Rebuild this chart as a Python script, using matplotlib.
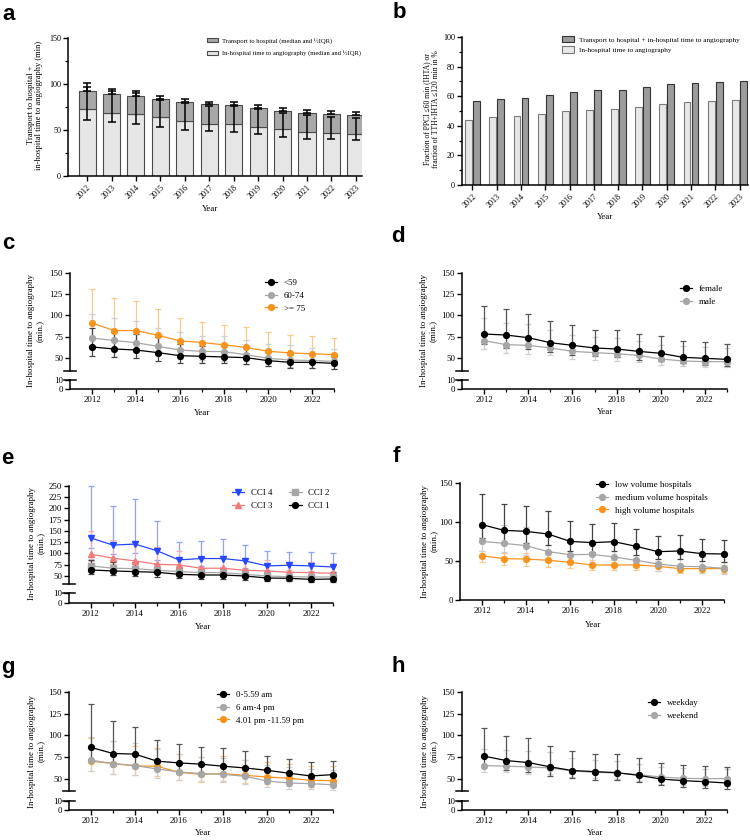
import matplotlib
matplotlib.use('Agg')
import matplotlib.pyplot as plt
from matplotlib.patches import Patch
import numpy as np

plt.rcParams['font.family'] = ['Liberation Serif', 'DejaVu Serif']
plt.rcParams['axes.linewidth'] = 1.1

W, H = 750, 840
fig = plt.figure(figsize=(7.5, 8.4), dpi=100)

# ── data ──
years = np.arange(2012, 2024)
year_labels = [str(y) for y in years]
even_years = [2012, 2014, 2016, 2018, 2020, 2022]

# a: stacked bars (median and 1/2 IQR)
a_in = [72.5, 68, 67, 64, 59.5, 57, 56.5, 53.6, 50.7, 47.8, 47, 46]
a_transport = [20.3, 21, 20, 20, 20.5, 21, 20.5, 20.4, 20.3, 20.3, 20, 20.3]
a_in_low = [61, 58.3, 56.5, 53.6, 50, 49, 47.8, 45.3, 42.4, 40.6, 39.9, 39.1]
a_in_high = [96.4, 92, 90, 83, 79, 76.5, 75.7, 72.5, 68.5, 66, 64.5, 62.7]
a_total_high = [101.4, 95, 92.4, 87.3, 83.3, 80.8, 80, 77.5, 73.5, 71.4, 70.3, 69.6]

# b: fractions in %
b_in = [44, 46, 46.5, 48, 50, 51, 51.5, 53, 55, 56, 57, 57.5]
b_total = [56.5, 58, 58.5, 60.5, 63, 64, 64.5, 66, 68, 69, 69.3, 70.3]

# c: age groups
c_lt59 = [63, 60.6, 59.4, 56.3, 52.7, 52, 51.2, 50.4, 46.9, 44.9, 44.9, 43.7]
c_lt59_lo = [52.7, 50.8, 50, 47, 44.5, 43.7, 44, 42.5, 40, 38.6, 37.8, 36.7]
c_lt59_hi = [85, 81, 78.5, 75, 66, 64, 65, 62, 57, 53, 53, 51]
c_60 = [73.5, 70.6, 68, 63.7, 59.4, 57.8, 57.5, 53.9, 49.6, 47.6, 47, 46]
c_60_lo = [63, 60, 57, 53, 49, 47.5, 47, 43.3, 40.6, 39.4, 38.6, 37.4]
c_60_hi = [102, 97.3, 93.5, 85.6, 80, 76, 75.3, 70.6, 67, 64.9, 62, 60.2]
c_75 = [91.2, 82.3, 82.3, 76.7, 70.2, 68.2, 65.5, 62.4, 58, 55.9, 55, 54]
c_75_lo = [76, 70, 68, 63, 58, 56, 55, 52, 49, 46, 46, 45]
c_75_hi = [131.5, 120.6, 117.3, 107.5, 97, 92.7, 89, 86.3, 80.8, 77, 76.4, 73.7]

# d: sex
d_female = [78.2, 77, 73.9, 68, 64.9, 61.8, 60.6, 57.8, 55.5, 50.8, 49.6, 48.4]
d_female_lo = [66, 62, 61, 57, 53, 52, 51, 48, 46, 44, 42, 41]
d_female_hi = [111.6, 107.6, 101.8, 93.5, 88.4, 83, 83.3, 78.6, 75.9, 70.4, 68.4, 66.9]
d_male = [70.4, 65.7, 64.9, 61.8, 57.8, 56.3, 55, 53, 48.8, 46.5, 45.7, 45.7]
d_male_lo = [61, 56, 55, 53, 49, 48, 47, 45, 42, 40, 39, 39]
d_male_hi = [97, 91.2, 89.6, 82.5, 77.5, 75, 73, 69.6, 65.7, 64, 62.5, 61.8]

# e: Charlson comorbidity index
e_cci4 = [134.3, 118.7, 120.9, 106, 85.8, 88.8, 88.8, 83.6, 72.4, 73.9, 72.4, 70.1]
e_cci4_lo = [112, 98.5, 100, 85, 70, 72.4, 70, 67, 61, 59.7, 59.7, 57.5]
e_cci4_hi = [250, 206, 220, 171.6, 124.6, 126.9, 132, 118.7, 104.5, 103, 103, 100]
e_cci3 = [98.5, 89.5, 83.6, 76, 74.6, 67.2, 67.2, 62.7, 61.2, 58.2, 57.5, 56]
e_cci3_lo = [83.6, 76, 74.6, 67.2, 65, 59.7, 59.7, 55, 53.7, 52.2, 51.5, 50]
e_cci3_hi = [150.7, 130, 121, 113.4, 106, 92.5, 94, 89.5, 85, 80, 80.6, 76]
e_cci2 = [72.4, 67.2, 66.4, 62.7, 59.7, 57.5, 57.5, 53.7, 50, 48.5, 47.8, 47.8]
e_cci2_lo = [62, 58, 57, 54, 51, 49, 49, 46, 43, 42, 41, 41]
e_cci2_hi = [87.3, 83.6, 82, 77.6, 72.4, 70, 70, 66.4, 62.7, 62.7, 61.2, 59.7]
e_cci1 = [63.4, 61.2, 59.7, 58.2, 53.7, 52.2, 52.2, 50, 45.5, 44.8, 42.5, 43.3]
e_cci1_lo = [53.7, 51.5, 50, 47.8, 44.8, 43.3, 43.3, 41, 38.8, 38, 37.3, 37.3]
e_cci1_hi = [85.8, 80.6, 80, 76, 67.2, 65.7, 65.7, 63.4, 59.7, 59, 58.2, 58.2]

# f: hospital volume
f_low = [96.6, 89.3, 88, 84.6, 75.2, 73.5, 74.8, 68.8, 62, 62.8, 59.4, 59]
f_low_lo = [79.5, 74.4, 73, 70, 63.2, 61, 62.4, 58.1, 53, 52.1, 49.6, 48.7]
f_low_hi = [135.9, 123.5, 121, 113.7, 101.3, 97.4, 98.7, 91, 81.6, 83.8, 78.6, 77.4]
f_med = [75.2, 72.6, 69.7, 62, 58.1, 58.5, 55.1, 50.9, 46.2, 43.2, 42.7, 40.6]
f_med_lo = [63.2, 61.5, 58.1, 51.7, 48.7, 48.7, 46.2, 41.9, 36.8, 35.5, 35, 33.3]
f_med_hi = [98.7, 96.6, 93.2, 83.8, 78.2, 76.5, 73.1, 68.8, 62.4, 59, 58.1, 56]
f_high = [56.8, 53, 52.6, 50.9, 48.3, 44.9, 44.9, 44.9, 43.2, 40.2, 40.2, 40.2]
f_high_lo = [48.3, 45.3, 44, 42.7, 41, 38, 38.5, 38, 36.8, 34.6, 34.6, 34.2]
f_high_hi = [63.2, 60.3, 60.3, 58.1, 54.7, 50.9, 51.3, 50.9, 48.7, 45.3, 45.3, 45.3]

# g: time of day
g_night = [86.3, 79.3, 78.6, 70.5, 68.5, 67, 64.7, 62.7, 60, 56.6, 53.5, 55]
g_night_lo = [72, 68, 66, 61, 58, 57, 56, 53, 51, 48, 46, 47]
g_night_hi = [136.5, 117.2, 110, 95, 90.7, 86.6, 86, 81.7, 76.2, 73.5, 69.7, 70.5]
g_day = [71.6, 67.8, 65.4, 61.6, 58.1, 56.2, 55.4, 53.1, 47.7, 45.4, 44.6, 43.4]
g_day_lo = [59.3, 56.2, 54.2, 51.5, 49.2, 47.7, 46.5, 44.6, 40.7, 38.8, 38, 36.9]
g_day_hi = [98.6, 93.8, 91, 84.4, 78.2, 75.5, 74.3, 71.6, 65.8, 63.9, 62, 60]
g_eve = [70.5, 67.8, 65, 64.7, 57.7, 55.4, 56.2, 54.2, 52.3, 50.8, 48.5, 48.1]
g_eve_lo = [59.3, 56.2, 54.2, 53, 49.2, 46.5, 47.7, 45.8, 43.8, 41.9, 40.7, 40.7]
g_eve_hi = [96.7, 93.6, 88.2, 85.5, 79.3, 75.5, 76.2, 71.6, 69.7, 67.8, 65, 64.7]

# h: weekday / weekend
h_wd = [76.3, 71.2, 68.9, 63.9, 59.7, 58.5, 57.3, 54.2, 50, 48.1, 46.9, 45.4]
h_wd_lo = [64.7, 60, 58.1, 53.9, 50.8, 49.2, 48.5, 46.1, 42.7, 40.7, 40, 38.8]
h_wd_hi = [109, 99.8, 96.7, 88.2, 82.4, 79.3, 78.2, 73.9, 68.9, 66.2, 65, 63.5]
h_we = [65.4, 64.7, 63.9, 62.7, 59.3, 57.7, 56.9, 55, 52.3, 50.8, 50.4, 50.4]
h_we_lo = [58.1, 57.7, 56.2, 55.4, 52.3, 50.8, 50, 47.7, 44.6, 43, 42.3, 41.9]
h_we_hi = [84.4, 83.2, 82, 80.5, 74.7, 72.4, 70.8, 67.8, 63.9, 62.4, 62, 61.2]

BLACK, GREY, ORANGE = '#000000', '#a6a6a6', '#f7931e'
BLUE, RED = '#2646ff', '#f27a7a'
FS = 6.4


def px_axes(x0, x1, ytop, ybot):
    return fig.add_axes([x0 / W, 1 - ybot / H, (x1 - x0) / W, (ybot - ytop) / H])


def clean(ax):
    ax.spines['top'].set_visible(False)
    ax.spines['right'].set_visible(False)
    ax.tick_params(width=1.0, length=3.5, labelsize=FS, pad=1.5)
    ax.tick_params(which='minor', width=0.9, length=2)


def year_axis(ax):
    ax.set_xlim(2011, 2023)
    ax.set_xticks(even_years)
    ax.set_xticks(years, minor=True)


def broken_panel(x0, x1, up_top, up_bot, lo_top, lo_bot, ylo, yhi, yticks):
    ax = px_axes(x0, x1, up_top, up_bot)
    axl = px_axes(x0, x1, lo_top, lo_bot)
    for a in (ax, axl):
        clean(a)
        year_axis(a)
        a.patch.set_alpha(0)
    ax.spines['bottom'].set_visible(False)
    ax.tick_params(axis='x', which='both', bottom=False, labelbottom=False)
    ax.set_ylim(ylo, yhi)
    ax.set_yticks(yticks)
    axl.set_ylim(0, 10)
    axl.set_yticks([0, 10])
    ax.plot([-0.022, 0.022], [0, 0], transform=ax.transAxes, color='k', lw=1.1, clip_on=False)
    axl.plot([-0.022, 0.022], [1, 1], transform=axl.transAxes, color='k', lw=1.1, clip_on=False)
    return ax, axl


def series(ax, med, lo, hi, color, ecolor, marker, label, ms=4.2):
    med, lo, hi = np.asarray(med), np.asarray(lo), np.asarray(hi)
    eb = ax.errorbar(years, med, yerr=[med - lo, hi - med], fmt='none', ecolor=ecolor,
                     elinewidth=0.9, capsize=2.2, capthick=0.9, zorder=2)
    for art in list(eb.lines[1]) + list(eb.lines[2]):
        art.set_clip_on(False)
    ln, = ax.plot(years, med, color=color, marker=marker, ms=ms, lw=0.9,
                  label=label, clip_on=False, zorder=3)
    return ln


def legend_at(handles, x, y, fs=FS, **kw):
    opts = dict(loc='upper left', bbox_to_anchor=(x / W, 1 - y / H), frameon=False,
                fontsize=fs, handlelength=1.4, handletextpad=0.7, labelspacing=0.5,
                borderpad=0, borderaxespad=0)
    opts.update(kw)
    fig.legend(handles=handles, **opts)


def ylabel_at(text, x, y, fs=FS):
    fig.text(x / W, 1 - y / H, text, rotation=90, ha='center', va='center',
             fontsize=fs, linespacing=1.15)


def xlabel_at(x, y, fs=FS):
    fig.text(x / W, 1 - y / H, 'Year', ha='center', va='center', fontsize=fs)


def panel_letter(letter, x, y):
    fig.text(x / W, 1 - y / H, letter, ha='center', va='center', fontsize=16,
             fontweight='bold', family='Liberation Sans')


LINE_LABEL = 'In-hospital time to angiography\n(min.)'

# ── a ──
ax = px_axes(68, 362, 38, 176)
clean(ax)
xi = np.arange(len(years))
a_in_arr = np.array(a_in)
a_tot = a_in_arr + np.array(a_transport)
ax.bar(xi, a_in, 0.7, color='#e6e6e6', edgecolor='#4a4a4a', lw=0.8, zorder=1)
ax.bar(xi, a_transport, 0.7, bottom=a_in, color='#a8a8a8', edgecolor='#4a4a4a', lw=0.8, zorder=1)
ax.errorbar(xi, a_in_arr, yerr=[a_in_arr - np.array(a_in_low), np.array(a_in_high) - a_in_arr],
            fmt='none', ecolor='k', elinewidth=1.1, capsize=3, capthick=1.1, zorder=3)
ax.errorbar(xi, a_tot, yerr=[np.zeros(len(years)), np.array(a_total_high) - a_tot],
            fmt='none', ecolor='k', elinewidth=1.1, capsize=3, capthick=1.1, zorder=3)
ax.set_xlim(-0.78, 11.25)
ax.set_ylim(0, 150)
ax.set_yticks([0, 50, 100, 150])
ax.set_yticks([25, 75, 125], minor=True)
ax.set_xticks(xi)
ax.set_xticklabels(year_labels, rotation=45, ha='right', rotation_mode='anchor', fontsize=5.9)
ax.tick_params(axis='y', labelsize=5.9)
legend_at([Patch(facecolor='#a8a8a8', edgecolor='#4a4a4a', lw=0.8),
           Patch(facecolor='#e6e6e6', edgecolor='#4a4a4a', lw=0.8)],
          207, 38, fs=4.8, handlelength=1.6, handleheight=0.6, labelspacing=1.0)
fig.legends[-1].texts[0].set_text('Transport to hospital (median and ½IQR)')
fig.legends[-1].texts[1].set_text('In-hospital time to angiography (median and ½IQR)')
ylabel_at('Transport to hospital +\nin-hospital time to angiography (min)', 35, 105, fs=6.1)
xlabel_at(210, 209)
panel_letter('a', 9, 14)

# ── b ──
ax = px_axes(462, 748, 37, 185)
clean(ax)
ax.bar(xi - 0.165, b_in, 0.28, color='#e8e8e8', edgecolor='#7a7a7a', lw=0.8)
ax.bar(xi + 0.165, b_total, 0.28, color='#9c9c9c', edgecolor='#333333', lw=0.8)
ax.set_xlim(-0.43, 11.35)
ax.set_ylim(0, 100)
ax.set_yticks([0, 20, 40, 60, 80, 100])
ax.set_yticks([10, 30, 50, 70, 90], minor=True)
ax.set_xticks(xi)
ax.set_xticklabels(year_labels, rotation=45, ha='right', rotation_mode='anchor', fontsize=5.9)
ax.tick_params(axis='y', labelsize=5.9)
legend_at([Patch(facecolor='#9c9c9c', edgecolor='#333333', lw=0.8),
           Patch(facecolor='#e8e8e8', edgecolor='#7a7a7a', lw=0.8)],
          562, 36, fs=5.2, handlelength=1.6, handleheight=1.0, labelspacing=0.5)
fig.legends[-1].texts[0].set_text('Transport to hospital + in-hospital time to angiography')
fig.legends[-1].texts[1].set_text('In-hospital time to angiography')
ylabel_at('Fraction of PPCI ≤60 min (IHTA) or\nfraction of TTH+IHTA ≤120 min in %', 432, 109, fs=5.5)
xlabel_at(605, 217)
panel_letter('b', 399, 12)

# ── c ──
ax, axl = broken_panel(70, 334, 273, 371, 380, 389, 34.7, 150, [50, 75, 100, 125, 150])
h3 = series(ax, c_75, c_75_lo, c_75_hi, ORANGE, '#f9c88a', 'o', '>= 75')
h2 = series(ax, c_60, c_60_lo, c_60_hi, GREY, '#cfcfcf', 'o', '60-74')
h1 = series(ax, c_lt59, c_lt59_lo, c_lt59_hi, BLACK, '#444444', 'o', '<59')
legend_at([h1, h2, h3], 265, 279)
ylabel_at(LINE_LABEL, 35, 331)
xlabel_at(202, 413)
panel_letter('c', 8, 243)

# ── d ──
ax, axl = broken_panel(462, 727, 273, 371, 380, 389, 34.7, 150, [50, 75, 100, 125, 150])
h2 = series(ax, d_male, d_male_lo, d_male_hi, GREY, '#cfcfcf', 'o', 'male')
h1 = series(ax, d_female, d_female_lo, d_female_hi, BLACK, '#555555', 'o', 'female')
legend_at([h1, h2], 680, 285)
ylabel_at(LINE_LABEL, 428, 331)
xlabel_at(605, 412)
panel_letter('d', 398, 237)

# ── e ──
ax, axl = broken_panel(69, 333, 486, 584, 593, 603, 32.2, 250,
                       [50, 75, 100, 125, 150, 175, 200, 225, 250])
h4 = series(ax, e_cci4, e_cci4_lo, e_cci4_hi, BLUE, '#8fa2ff', 'v', 'CCI 4')
h3 = series(ax, e_cci3, e_cci3_lo, e_cci3_hi, RED, '#f6b0b0', '^', 'CCI 3')
h2 = series(ax, e_cci2, e_cci2_lo, e_cci2_hi, GREY, '#cfcfcf', 's', 'CCI 2', ms=3.8)
h1 = series(ax, e_cci1, e_cci1_lo, e_cci1_hi, BLACK, '#444444', 'o', 'CCI 1')
legend_at([h4, h3, h2, h1], 232, 489, ncol=2, columnspacing=1.9)
ylabel_at(LINE_LABEL, 36, 543)
xlabel_at(203, 627)
panel_letter('e', 7, 459)

# ── f ──
ax = px_axes(460, 724, 483, 600)
clean(ax)
year_axis(ax)
ax.set_ylim(0, 150)
ax.set_yticks([0, 50, 100, 150])
h3 = series(ax, f_high, f_high_lo, f_high_hi, ORANGE, '#f9c88a', 'o', 'high volume hospitals')
h2 = series(ax, f_med, f_med_lo, f_med_hi, GREY, '#cfcfcf', 'o', 'medium volume hospitals')
h1 = series(ax, f_low, f_low_lo, f_low_hi, BLACK, '#444444', 'o', 'low volume hospitals')
legend_at([h1, h2, h3], 596, 481)
ylabel_at(LINE_LABEL, 429, 541)
xlabel_at(593, 625)
panel_letter('f', 396, 457)

# ── g ──
ax, axl = broken_panel(69, 333, 692, 791, 801, 810, 36.2, 150, [50, 75, 100, 125, 150])
h3 = series(ax, g_eve, g_eve_lo, g_eve_hi, ORANGE, '#f9c88a', 'o', '4.01 pm -11.59 pm')
h2 = series(ax, g_day, g_day_lo, g_day_hi, GREY, '#cfcfcf', 'o', '6 am-4 pm')
h1 = series(ax, g_night, g_night_lo, g_night_hi, BLACK, '#555555', 'o', '0-5.59 am')
legend_at([h1, h2, h3], 217, 691)
ylabel_at(LINE_LABEL, 36, 751)
xlabel_at(203, 833)
panel_letter('g', 8, 667)

# ── h ──
ax, axl = broken_panel(462, 727, 692, 791, 801, 810, 36.2, 150, [50, 75, 100, 125, 150])
h2 = series(ax, h_we, h_we_lo, h_we_hi, GREY, '#cfcfcf', 'o', 'weekend')
h1 = series(ax, h_wd, h_wd_lo, h_wd_hi, BLACK, '#555555', 'o', 'weekday')
legend_at([h1, h2], 648, 699)
ylabel_at(LINE_LABEL, 429, 751)
xlabel_at(595, 833)
panel_letter('h', 398, 666)

fig.savefig('out.png', dpi=100)
